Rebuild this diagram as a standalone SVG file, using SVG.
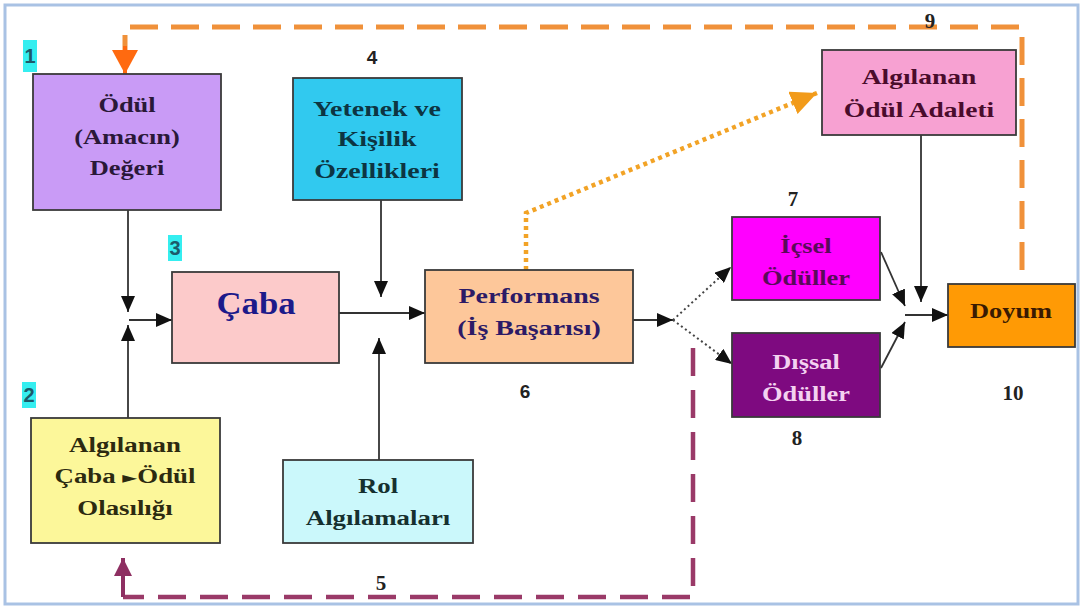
<svg xmlns="http://www.w3.org/2000/svg" width="1083" height="608" viewBox="0 0 1083 608">
<style>
.box{stroke:#3a3a3a;stroke-width:1.8}
.t{font-family:"Liberation Serif","Times New Roman",serif;font-weight:bold;font-size:22px;text-anchor:middle}
.big{font-size:31px}
.num{font-family:"Liberation Serif","Times New Roman",serif;font-weight:bold;font-size:21px;fill:#222;text-anchor:middle}
.nums{font-family:"Liberation Sans",Arial,sans-serif;font-weight:bold;font-size:19px;fill:#222;text-anchor:middle}
.tag{font-family:"Liberation Sans",Arial,sans-serif;font-weight:bold;font-size:20px;fill:#1c5a6a;text-anchor:middle}
.c{fill:none;stroke:#333;stroke-width:1.8}
.dot{fill:none;stroke:#444;stroke-width:2;stroke-dasharray:2 3}
.tri{font-family:"DejaVu Sans",sans-serif;font-size:16px}
</style>
<defs>
<marker id="ah" markerUnits="userSpaceOnUse" markerWidth="16" markerHeight="14" refX="16" refY="7" orient="auto"><path d="M0,0 L16,7 L0,14 z" fill="#111"/></marker>
<marker id="ahO" markerUnits="userSpaceOnUse" markerWidth="26" markerHeight="24" refX="26" refY="12" orient="auto"><path d="M0,0 L26,12 L0,24 z" fill="#f29b1a"/></marker>
<marker id="ahT" markerUnits="userSpaceOnUse" markerWidth="24" markerHeight="26" refX="24" refY="13" orient="auto"><path d="M0,0 L24,13 L0,26 z" fill="#ff6a10"/></marker>
<marker id="ahM" markerUnits="userSpaceOnUse" markerWidth="18" markerHeight="18" refX="18" refY="9" orient="auto"><path d="M0,0 L18,9 L0,18 z" fill="#8e2f62"/></marker>
</defs>
<rect x="0" y="0" width="1083" height="608" fill="#ffffff"/>
<rect x="5" y="5" width="1073" height="599" fill="#ffffff" stroke="#a9c2e4" stroke-width="3"/>

<g id="connectors">
<line class="c" x1="128" y1="210" x2="128" y2="312" marker-end="url(#ah)"/>
<line class="c" x1="128" y1="418" x2="128" y2="325" marker-end="url(#ah)"/>
<line class="c" x1="129" y1="320" x2="172" y2="320" marker-end="url(#ah)"/>
<line class="c" x1="339" y1="313" x2="425" y2="313" marker-end="url(#ah)"/>
<line class="c" x1="381" y1="200" x2="381" y2="297" marker-end="url(#ah)"/>
<line class="c" x1="379" y1="460" x2="379" y2="338" marker-end="url(#ah)"/>
<line class="c" x1="633" y1="320" x2="673" y2="320" marker-end="url(#ah)"/>
<line class="dot" x1="673" y1="320" x2="731" y2="267" marker-end="url(#ah)"/>
<line class="dot" x1="673" y1="320" x2="732" y2="364" marker-end="url(#ah)"/>
<line class="c" x1="881" y1="252" x2="905" y2="306" marker-end="url(#ah)"/>
<line class="c" x1="881" y1="368" x2="905" y2="322" marker-end="url(#ah)"/>
<line class="c" x1="905" y1="315" x2="948" y2="315" marker-end="url(#ah)"/>
<line class="c" x1="921" y1="135" x2="921" y2="302" marker-end="url(#ah)"/>
<path d="M1022,270 V27 H125 V50" fill="none" stroke="#f0913a" stroke-width="5" stroke-dasharray="28 13"/>
<line x1="125" y1="46" x2="125" y2="74" stroke="#ff6a10" stroke-width="4" marker-end="url(#ahT)"/>
<path d="M526,270 V213 L817,93" fill="none" stroke="#f2a326" stroke-width="4.5" stroke-dasharray="4 4" marker-end="url(#ahO)"/>
<path d="M693,348 V597 H123" fill="none" stroke="#9a3a68" stroke-width="4.5" stroke-dasharray="28 14"/>
<line x1="123" y1="597" x2="123" y2="558" stroke="#8e2f62" stroke-width="4" marker-end="url(#ahM)"/>
</g>

<g id="n1">
<rect class="box" x="33" y="74" width="188" height="136" fill="#c99bf6"/>
<g transform="translate(127 0) scale(1.2 1)" fill="#2a1838">
<text class="t" x="0" y="112">Ödül</text>
<text class="t" x="0" y="144">(Amacın)</text>
<text class="t" x="0" y="175">Değeri</text>
</g>
<rect x="23" y="40" width="14" height="32" fill="#35eef0"/>
<text class="tag" x="30" y="63">1</text>
</g>

<g id="n2">
<rect class="box" x="31" y="418" width="189" height="125" fill="#fcf79a"/>
<g transform="translate(125 0) scale(1.22 1)" fill="#2c2a10">
<text class="t" x="0" y="452">Algılanan</text>
<text class="t" x="0" y="483">Çaba <tspan class="tri">►</tspan>Ödül</text>
<text class="t" x="0" y="515">Olasılığı</text>
</g>
<rect x="22" y="382" width="14" height="26" fill="#35eef0"/>
<text class="tag" x="29" y="402">2</text>
</g>

<g id="n3">
<rect class="box" x="172" y="272" width="167" height="91" fill="#fccaca"/>
<g transform="translate(256 0) scale(1.12 1)" fill="#1c1a8a">
<text class="t big" x="0" y="314">Çaba</text>
</g>
<rect x="168" y="235" width="14" height="26" fill="#35eef0"/>
<text class="tag" x="175" y="255">3</text>
</g>

<g id="n4">
<rect class="box" x="293" y="78" width="169" height="122" fill="#31c9ef"/>
<g transform="translate(377 0) scale(1.27 1)" fill="#0d3542">
<text class="t" x="0" y="116">Yetenek ve</text>
<text class="t" x="0" y="146">Kişilik</text>
<text class="t" x="0" y="178">Özellikleri</text>
</g>
<text class="nums" x="372" y="64">4</text>
</g>

<g id="n5">
<rect class="box" x="283" y="460" width="190" height="83" fill="#cbf8fb"/>
<g transform="translate(378 0) scale(1.22 1)" fill="#16302f">
<text class="t" x="0" y="493">Rol</text>
<text class="t" x="0" y="525">Algılamaları</text>
</g>
<text class="num" x="381" y="590">5</text>
</g>

<g id="n6">
<rect class="box" x="425" y="270" width="208" height="93" fill="#fdc79a"/>
<g transform="translate(529 0) scale(1.27 1)" fill="#2c1a66">
<text class="t" x="0" y="303">Performans</text>
<text class="t" x="0" y="335">(İş Başarısı)</text>
</g>
<text class="nums" x="525" y="398">6</text>
</g>

<g id="n7">
<rect class="box" x="732" y="217" width="148" height="83" fill="#ff00ff"/>
<g transform="translate(806 0) scale(1.2 1)" fill="#5a0a5a">
<text class="t" x="0" y="253">İçsel</text>
<text class="t" x="0" y="285">Ödüller</text>
</g>
<text class="num" x="793" y="206">7</text>
</g>

<g id="n8">
<rect class="box" x="732" y="333" width="148" height="84" fill="#7e0a80"/>
<g transform="translate(806 0) scale(1.2 1)" fill="#f3d2f0">
<text class="t" x="0" y="369">Dışsal</text>
<text class="t" x="0" y="401">Ödüller</text>
</g>
<text class="num" x="797" y="445">8</text>
</g>

<g id="n9">
<rect class="box" x="822" y="50" width="194" height="85" fill="#f7a1d2"/>
<g transform="translate(919 0) scale(1.25 1)" fill="#4a0c2c">
<text class="t" x="0" y="84">Algılanan</text>
<text class="t" x="0" y="117">Ödül Adaleti</text>
</g>
<text class="num" x="930" y="28">9</text>
</g>

<g id="n10">
<rect class="box" x="948" y="284" width="127" height="63" fill="#ff9a05"/>
<g transform="translate(1011 0) scale(1.2 1)" fill="#3a1a02">
<text class="t" x="0" y="318">Doyum</text>
</g>
<text class="num" x="1013" y="400">10</text>
</g>
</svg>
